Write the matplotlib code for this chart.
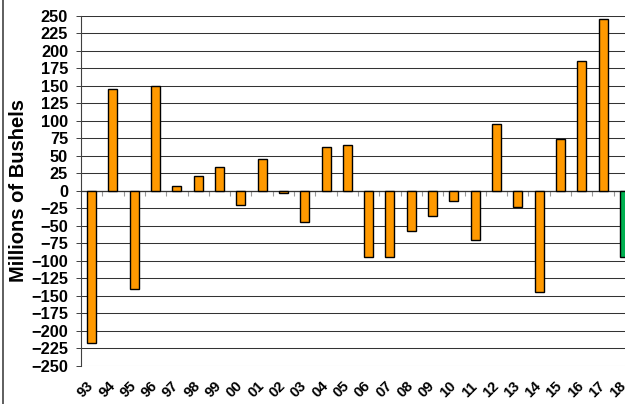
import matplotlib
matplotlib.use('Agg')
import matplotlib.pyplot as plt
import matplotlib.transforms as mtransforms
from matplotlib.lines import Line2D

plt.rcParams['font.family'] = ['Liberation Sans', 'DejaVu Sans']

# year-over-year change, millions of bushels
years = ['93', '94', '95', '96', '97', '98', '99', '00', '01', '02', '03', '04', '05',
         '06', '07', '08', '09', '10', '11', '12', '13', '14', '15', '16', '17', '18']
change = [-217, 145, -141, 150, 7, 21, 34, -20, 45, -3, -44, 63, 65,
          -95, -94, -58, -36, -15, -70, 95, -23, -145, 74, 185, 245, -95]
projected = '18'

colors = ['#00B050' if y == projected else '#FF9900' for y in years]

fig = plt.figure(figsize=(6.25, 4.04), dpi=100)
# plot area runs past the right edge of the figure
ax = fig.add_axes([81 / 625, 38.3 / 404, 554 / 625, 349.7 / 404])

x = list(range(len(years)))
ax.bar(x, change, width=0.42, color=colors, edgecolor='black', linewidth=1.0, zorder=3)

ax.set_xlim(-0.5, len(years) - 0.5)
ax.set_ylim(-250, 250)
ax.set_yticks(range(-250, 251, 25))
ax.tick_params(axis='y', labelsize=11.8, length=3.3, width=0.7, color='#404040', pad=6)
for lbl in ax.get_yticklabels():
    lbl.set_fontweight('bold')

ax.yaxis.grid(True, color='#333333', linewidth=0.75)
ax.set_axisbelow(True)
ax.get_ygridlines()[0].set_color('#bbbbbb')

for side in ('top', 'right'):
    ax.spines[side].set_visible(False)
ax.spines['left'].set_color('#404040')
ax.spines['left'].set_linewidth(0.8)
ax.spines['bottom'].set_position(('data', 0))
ax.spines['bottom'].set_color('#333333')
ax.spines['bottom'].set_linewidth(0.9)

# small marks between categories on the zero line
ax.set_xticks([i + 0.5 for i in x[:-1]])
ax.set_xticklabels([])
ax.tick_params(axis='x', direction='out', length=3.5, width=0.8, color='#999999')

trans = mtransforms.blended_transform_factory(ax.transData, ax.transAxes) + \
    mtransforms.ScaledTranslation(-6 / 100, 0, fig.dpi_scale_trans)
for i, yr in zip(x, years):
    ax.text(i, -0.068, yr, transform=trans, rotation=45, ha='center', va='center',
            fontsize=10.5, fontweight='bold', clip_on=False)

fig.text(19 / 625, 1 - 190 / 404, 'Millions of Bushels', rotation=90,
         ha='center', va='center', fontsize=14.5, fontweight='bold')

fig.add_artist(Line2D([2.5 / 625, 2.5 / 625], [0, 1], color='#333333', linewidth=1.1))

fig.savefig('out.png', dpi=100)
